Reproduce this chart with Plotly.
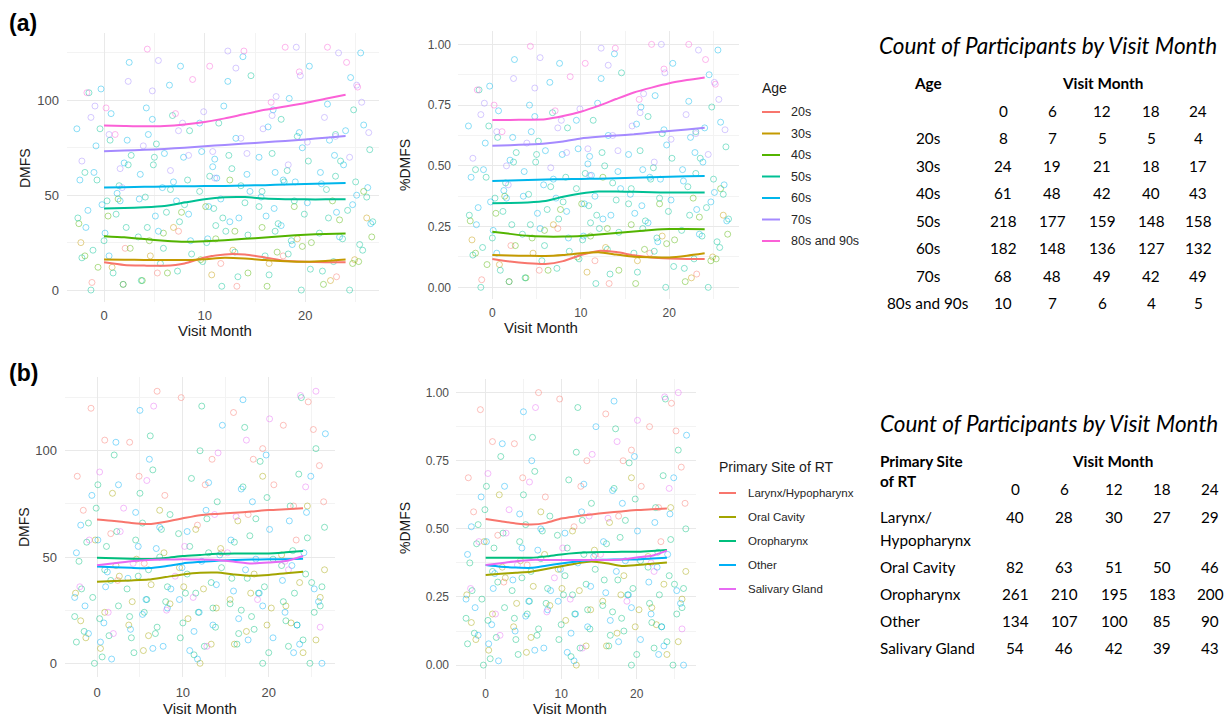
import plotly.graph_objects as go

W, H = 1228, 717

# ---------------- data ----------------
age_groups = ["20s", "30s", "40s", "50s", "60s", "70s", "80s and 90s"]
age_colors = ["#F8766D", "#C49A00", "#53B400", "#00C094", "#00B6EB", "#A58AFF", "#FB61D7"]
site_groups = ["Larynx/Hypopharynx", "Oral Cavity", "Oropharynx", "Other", "Salivary Gland"]
site_colors = ["#F8766D", "#A3A500", "#00BF7D", "#00B0F6", "#E76BF3"]

visit_months = [0, 6, 12, 18, 24]
age_counts = [
    [8, 7, 5, 5, 4],
    [24, 19, 21, 18, 17],
    [61, 48, 42, 40, 43],
    [218, 177, 159, 148, 158],
    [182, 148, 136, 127, 132],
    [68, 48, 49, 42, 49],
    [10, 7, 6, 4, 5],
]
site_counts = [
    [40, 28, 30, 27, 29],
    [82, 63, 51, 50, 46],
    [261, 210, 195, 183, 200],
    [134, 107, 100, 85, 90],
    [54, 46, 42, 39, 43],
]

# smoothed curves (loess), read at these months
smooth_x = [0, 2, 4, 6, 8, 10, 12, 14, 16, 18, 20, 22, 24]
age_dmfs_smooth = [
    [14.6, 13.2, 12.9, 12.8, 14.0, 17.2, 18.8, 18.7, 17.2, 15.4, 14.9, 14.7, 14.6],
    [16.1, 16.0, 15.9, 15.8, 15.8, 16.3, 17.0, 16.6, 15.8, 15.2, 14.9, 15.3, 16.1],
    [28.4, 27.8, 26.9, 26.0, 25.4, 25.7, 26.3, 27.0, 27.7, 28.5, 29.2, 29.6, 29.8],
    [43.0, 43.2, 43.6, 44.3, 46.1, 47.9, 48.9, 49.0, 48.2, 47.9, 47.8, 47.8, 47.9],
    [54.0, 54.2, 54.4, 54.6, 54.7, 54.8, 54.9, 55.1, 55.3, 55.6, 55.9, 56.2, 56.4],
    [73.2, 73.5, 73.9, 74.4, 75.0, 75.8, 76.5, 77.2, 77.9, 78.6, 79.4, 80.3, 81.2],
    [86.8, 86.5, 86.3, 86.5, 87.3, 88.6, 90.5, 92.8, 95.0, 96.8, 98.6, 100.8, 103.0],
]
age_pct_smooth = [
    [0.117, 0.106, 0.099, 0.096, 0.108, 0.133, 0.150, 0.145, 0.132, 0.123, 0.119, 0.117, 0.117],
    [0.133, 0.131, 0.130, 0.129, 0.133, 0.140, 0.144, 0.135, 0.126, 0.124, 0.123, 0.130, 0.140],
    [0.229, 0.220, 0.212, 0.209, 0.209, 0.211, 0.217, 0.224, 0.230, 0.236, 0.240, 0.240, 0.239],
    [0.346, 0.347, 0.349, 0.355, 0.373, 0.386, 0.394, 0.394, 0.393, 0.391, 0.390, 0.390, 0.390],
    [0.438, 0.440, 0.442, 0.444, 0.445, 0.446, 0.447, 0.449, 0.451, 0.453, 0.455, 0.457, 0.458],
    [0.583, 0.585, 0.588, 0.592, 0.600, 0.613, 0.620, 0.625, 0.630, 0.637, 0.643, 0.650, 0.657],
    [0.689, 0.689, 0.690, 0.692, 0.705, 0.723, 0.747, 0.775, 0.802, 0.822, 0.840, 0.853, 0.864],
]
site_dmfs_smooth = [
    [67.7, 67.0, 66.0, 65.5, 66.6, 68.2, 69.7, 70.3, 70.8, 71.4, 72.1, 72.5, 72.9],
    [38.4, 38.7, 39.0, 39.4, 40.6, 41.8, 42.6, 42.7, 41.8, 41.2, 41.6, 42.4, 43.1],
    [49.7, 49.4, 49.2, 49.1, 49.6, 50.5, 51.0, 51.5, 51.7, 51.7, 51.7, 52.2, 52.8],
    [45.5, 45.2, 44.9, 44.8, 45.7, 47.0, 47.7, 48.3, 48.6, 48.8, 48.9, 49.0, 49.2],
    [46.1, 47.1, 48.0, 48.6, 48.8, 48.9, 48.8, 48.6, 47.8, 47.0, 47.4, 48.1, 50.5],
]
site_pct_smooth = [
    [0.536, 0.528, 0.520, 0.516, 0.522, 0.538, 0.546, 0.553, 0.559, 0.564, 0.569, 0.572, 0.575],
    [0.331, 0.335, 0.339, 0.343, 0.353, 0.363, 0.373, 0.380, 0.374, 0.364, 0.367, 0.372, 0.377],
    [0.394, 0.394, 0.394, 0.394, 0.399, 0.406, 0.411, 0.414, 0.415, 0.416, 0.416, 0.419, 0.422],
    [0.367, 0.361, 0.358, 0.357, 0.365, 0.373, 0.380, 0.386, 0.387, 0.388, 0.388, 0.391, 0.394],
    [0.367, 0.374, 0.381, 0.386, 0.386, 0.386, 0.386, 0.386, 0.386, 0.388, 0.395, 0.401, 0.420],
]

# jittered participant observations (estimated sample of the cloud)
A20_X = [-1.2, 2.1, 5.3, 7.4, 11.6, 13.2, 17.8, 23.1]
A20_Y = [4, 22, 9, 31, 14, 2, 18, 7]
A30_X = [0.8, -2.3, 1.9, 4.6, 6.9, 10.7, 12.8, 16.4, 19.2, 22.5, 24.9, 26.1]
A30_Y = [12, 25, 3, 18, 33, 8, 21, 14, 27, 5, 16, 38]
A40_X = [-2.5, -0.6, 1.4, 2.6, 3.8, 5.9, 7.7, 9.6, 11.1, 12.5, 14.3, 15.7, 17.2, 18.9, 20.6, 21.8, 23.4, 24.7, 25.8, 26.6,
         -1.9, 0.4, 4.5, 6.3, 10.1, 13.0, 16.2, 19.7, 22.7, 25.3]
A40_Y = [35, 12, 48, 22, 5, 30, 41, 16, 27, 58, 9, 33, 20, 44, 25, 3, 37, 14, 52, 28,
         18, 39, 26, 9, 44, 31, 2, 23, 47, 15]
A50_X = [-2.6, -1.9, -1.1, -0.4, 0.3, 0.9, 1.5, 2.2, 2.7, -1.5,
         3.4, 4.1, 4.9, 5.6, 6.2, 6.8, 7.5, 8.3, 8.7, 5.2,
         9.5, 10.2, 10.9, 11.4, 12.1, 12.7, 13.3, 14.0, 14.6, 11.8,
         15.4, 16.0, 16.7, 17.3, 17.9, 18.6, 19.2, 19.9, 20.5, 18.2,
         21.4, 22.1, 22.8, 23.5, 24.2, 24.8, 25.4, 26.1, 26.7, 23.0,
         -2.2, -1.3, -0.7, 0.0, 0.6, 1.2, 1.9, 2.4,
         3.7, 4.3, 5.0, 5.9, 6.6, 7.3, 8.0, 8.5,
         9.8, 10.5, 11.1, 11.7, 12.4, 13.0, 13.6, 14.3,
         15.7, 16.4, 17.0, 17.6, 18.3, 18.9, 19.6, 20.3,
         21.7, 22.3, 23.0, 23.7, 24.4, 25.0, 25.7, 26.4]
A50_Y = [38, 62, 21, 85, 47, 9, 55, 33, 71, 104,
         28, 49, 66, 14, 41, 92, 36, 58, 19, 77,
         52, 25, 43, 88, 31, 64, 7, 46, 113, 38,
         44, 18, 72, 35, 57, 26, 81, 40, 11, 63,
         30, 53, 15, 68, 42, 95, 24, 49, 36, 60,
         17, 0, 58, 26, 79, 40, 3, 66,
         5, 33, 70, 22, 53, 10, 45, 84,
         15, 60, 34, 2, 71, 20, 55, 29,
         52, 8, 31, 90, 19, 47, 0, 68,
         10, 38, 82, 27, 0, 57, 21, 74]
A60_X = [-2.4, -1.6, -0.8, 0.1, 0.7, 1.3, 2.0, 2.5, -0.2,
         3.6, 4.4, 5.1, 5.8, 6.5, 7.2, 7.9, 8.6, 4.8,
         9.7, 10.4, 11.2, 11.9, 12.5, 13.1, 13.8, 14.5, 10.8,
         15.6, 16.3, 17.0, 17.6, 18.4, 19.0, 19.7, 20.4, 16.9,
         21.6, 22.4, 23.1, 23.8, 24.5, 25.1, 25.8, 26.5, 22.9,
         -2.7, -1.8, -1.0, -0.3, 0.5, 1.6, 2.3,
         3.5, 4.2, 5.4, 6.0, 6.9, 7.6, 8.4,
         9.5, 10.3, 11.0, 11.6, 12.3, 13.4, 14.2,
         15.4, 16.1, 16.8, 17.8, 18.7, 19.4, 20.2,
         21.5, 22.2, 23.4, 24.0, 24.7, 25.5, 26.2]
A60_Y = [58, 42, 76, 30, 93, 51, 67, 120, 45,
         61, 82, 39, 54, 108, 47, 70, 26, 90,
         73, 44, 59, 97, 36, 80, 123, 52, 65,
         49, 86, 62, 34, 101, 57, 75, 118, 43,
         56, 79, 41, 66, 112, 50, 87, 35, 71,
         85, 33, 62, 106, 18, 47, 79,
         48, 96, 31, 72, 57, 118, 40,
         88, 27, 69, 48, 110, 38, 61,
         70, 39, 95, 58, 24, 83, 46,
         62, 98, 28, 84, 45, 125, 54]
A70_X = [-2.2, -0.9, 0.5, 1.8, 2.4, 3.9, 5.4, 6.6, 7.8, 8.4, 9.9, 11.0, 12.3, 13.6, 14.2,
         15.8, 17.1, 18.3, 19.5, 20.2, 21.9, 23.3, 24.4, 25.6, 26.3,
         -1.3, 1.6, 4.8, 7.4, 10.8, 13.1, 16.7, 19.1, 23.0, 25.1]
A70_Y = [68, 97, 82, 54, 110, 76, 121, 63, 88, 71, 94, 59, 126, 80, 72,
         85, 102, 66, 113, 78, 91, 125, 70, 99, 83,
         91, 64, 105, 84, 73, 117, 92, 128, 81, 108]
A80_X = [-1.7, 1.1, 4.3, 7.1, 10.5, 13.9, 16.6, 19.4, 22.2, 25.2, 0.2, 8.8, 18.0, 24.1]
A80_Y = [104, 82, 127, 93, 118, 126, 99, 115, 128, 107, 96, 111, 128, 120]

BL_X = [-2.3, -0.7, 1.6, 3.8, 5.5, 7.9, 9.8, 11.7, 13.4, 14.5, 15.9, 17.6, 19.3, 20.6, 21.7, 23.2, 24.6, 25.9, 26.4, 2.4,
        -1.6, 0.9, 4.9, 7.0, 12.6, 18.2, 22.9, 25.2]
BL_Y = [88, 120, 61, 104, 47, 79, 125, 65, 96, 52, 118, 70, 101, 84, 112, 58, 123, 93, 76, 39,
        72, 105, 88, 128, 84, 96, 74, 110]
BO_X = [-2.5, -1.3, -0.2, 0.9, 1.8, 2.6, 3.7, 4.6, 5.4, 6.3, 7.3, 8.5,
        9.6, 10.6, 11.5, 12.4, 13.3, 14.4, 15.5, 16.4, 17.4, 18.3, 19.3, 20.3,
        21.5, 22.6, 23.6, 24.5, 25.5, 26.5,
        -1.9, 0.4, 2.2, 4.1, 6.0, 7.8, 10.1, 12.0, 13.9, 16.0, 17.9, 19.8, 22.0, 24.0, 26.0]
BO_Y = [33, 12, 58, 24, 80, 41, 18, 49, 6, 37, 72, 28,
        45, 21, 63, 35, 9, 54, 30, 67, 15, 42, 88, 26,
        51, 19, 38, 74, 11, 44,
        20, 7, 46, 29, 13, 52, 36, 0, 26, 9, 33, 18, 27, 5, 31]
BR_X = [-2.6, -2.1, -1.5, -1.0, -0.5, 0.1, 0.6, 1.1, 1.6, 2.0, 2.5, -0.1,
        3.5, 4.0, 4.5, 5.0, 5.5, 6.0, 6.5, 7.0, 7.5, 8.0, 8.5, 6.2,
        9.5, 10.0, 10.5, 11.0, 11.5, 12.0, 12.5, 13.0, 13.5, 14.0, 14.5, 12.2,
        15.5, 16.0, 16.5, 17.0, 17.5, 18.0, 18.5, 19.0, 19.5, 20.0, 20.5, 17.2,
        21.5, 22.0, 22.5, 23.0, 23.5, 24.0, 24.5, 25.0, 25.5, 26.0, 26.5, 23.8,
        -2.4, -1.8, -1.2, -0.3, 0.3, 0.9, 1.4, 2.3,
        3.8, 4.3, 4.8, 5.3, 5.8, 6.8, 7.3, 8.2,
        9.7, 10.3, 10.8, 11.3, 11.8, 12.8, 13.3, 13.8,
        15.7, 16.3, 16.8, 17.8, 18.3, 18.8, 19.3, 19.8,
        21.7, 22.3, 22.8, 23.3, 24.3, 24.8, 25.3, 26.2]
BR_Y = [22, 48, 15, 66, 31, 84, 3, 55, 39, 98, 27, 73,
        35, 12, 58, 80, 24, 44, 91, 17, 63, 29, 70, 107,
        61, 19, 42, 87, 33, 100, 8, 52, 26, 76, 45, 121,
        28, 57, 14, 83, 40, 22, 68, 95, 36, 5, 49, 111,
        46, 20, 74, 33, 89, 11, 59, 38, 101, 27, 64, 125,
        10, 35, 57, 0, 21, 44, 13, 62,
        22, 5, 41, 66, 30, 14, 50, 36,
        12, 33, 55, 4, 24, 68, 38, 17,
        40, 9, 25, 60, 16, 33, 0, 78,
        29, 8, 53, 18, 42, 0, 24, 36]
BT_X = [-2.4, -1.4, -0.6, 0.4, 1.2, 2.2, -1.9, 0.8,
        3.6, 4.5, 5.3, 6.1, 6.9, 7.7, 8.6, 5.0,
        9.6, 10.5, 11.3, 12.2, 13.0, 13.9, 14.6, 11.7,
        15.6, 16.5, 17.3, 18.1, 18.9, 19.7, 20.5, 17.0,
        21.6, 22.4, 23.3, 24.1, 24.9, 25.8, 26.6, 22.9,
        -2.6, -1.0, 0.1, 1.0, 1.7, 2.5,
        3.9, 4.8, 5.7, 6.5, 7.3, 8.2,
        9.9, 10.8, 11.9, 12.7, 13.5, 14.3,
        15.9, 16.8, 17.6, 18.5, 19.3, 20.1,
        21.9, 22.7, 23.6, 24.4, 25.3, 26.2]
BT_Y = [52, 27, 79, 10, 43, 104, 65, 19,
        40, 71, 23, 96, 54, 8, 35, 119,
        30, 62, 15, 48, 85, 37, 112, 2,
        58, 21, 44, 76, 33, 98, 12, 124,
        39, 67, 18, 52, 88, 29, 108, 5,
        31, 14, 58, 36, 2, 84,
        16, 55, 30, 7, 64, 26,
        45, 6, 24, 72, 18, 51,
        34, 82, 11, 49, 27, 63,
        24, 46, 9, 71, 35, 0]
BS_X = [-2.0, 0.3, 1.9, 2.7, 4.2, 6.6, 8.1, 3.1, 10.2, 12.8, 14.1, 9.1, 16.2, 18.7, 20.1, 15.2, 22.3, 24.3, 26.0, 23.7,
        -0.9, 1.3, 5.8, 11.2, 13.7, 17.4, 21.9, 25.5]
BS_Y = [36, 90, 14, 62, 47, 121, 25, 73, 55, 8, 99, 41, 69, 30, 115, 52, 44, 83, 17, 126,
        58, 24, 86, 31, 70, 105, 48, 128]

MAX_SURFACES = 128

age_pts = [(A20_X, A20_Y), (A30_X, A30_Y), (A40_X, A40_Y), (A50_X, A50_Y),
           (A60_X, A60_Y), (A70_X, A70_Y), (A80_X, A80_Y)]
site_pts = [(BL_X, BL_Y), (BO_X, BO_Y), (BR_X, BR_Y), (BT_X, BT_Y), (BS_X, BS_Y)]

# ---------------- figure ----------------
fig = go.Figure()


def px(x):
    return x / W


def py(y):
    return 1 - y / H


def add_panel(n, pts, smooth, colors, pct):
    xa = "x" if n == 1 else f"x{n}"
    ya = "y" if n == 1 else f"y{n}"
    for (xs, ys), c in zip(pts, colors):
        yv = [min(v / MAX_SURFACES, 1.0) for v in ys] if pct else ys
        fig.add_trace(go.Scatter(
            x=xs, y=yv, mode="markers", xaxis=xa, yaxis=ya, showlegend=False,
            marker=dict(symbol="circle-open", size=6, color=c, opacity=0.45,
                        line=dict(width=1)),
            hoverinfo="skip"))
    for s, c in zip(smooth, colors):
        fig.add_trace(go.Scatter(
            x=smooth_x, y=s, mode="lines", xaxis=xa, yaxis=ya, showlegend=False,
            line=dict(color=c, width=2, shape="spline", smoothing=0.6)))


add_panel(1, age_pts, age_dmfs_smooth, age_colors, False)
add_panel(2, age_pts, age_pct_smooth, age_colors, True)
add_panel(3, site_pts, site_dmfs_smooth, site_colors, False)
add_panel(4, site_pts, site_pct_smooth, site_colors, True)

GRID = "#e9e9e9"
MINOR = "#f3f3f3"
TICKC = "#4d4d4d"


def xax(dom, rng, fs, standoff):
    return dict(domain=[px(dom[0]), px(dom[1])], range=rng, tickmode="array",
                tickvals=[0, 10, 20], ticktext=["0", "10", "20"], showgrid=True,
                gridcolor=GRID, gridwidth=1, zeroline=False, showline=False,
                ticks="", ticklabelstandoff=standoff,
                tickfont=dict(family="Liberation Sans, Arial", size=fs, color=TICKC),
                minor=dict(tickvals=[5, 15, 25], showgrid=True, gridcolor=MINOR, gridwidth=1))


def yax_dmfs(dom, rng, fs):
    return dict(domain=[py(dom[1]), py(dom[0])], range=rng, tickmode="array",
                tickvals=[0, 50, 100], ticktext=["0", "50", "100"], showgrid=True,
                gridcolor=GRID, gridwidth=1, zeroline=False, showline=False,
                ticks="", ticklabelstandoff=7,
                tickfont=dict(family="Liberation Sans, Arial", size=fs, color=TICKC),
                minor=dict(tickvals=[25, 75, 125], showgrid=True, gridcolor=MINOR, gridwidth=1))


def yax_pct(dom, rng, fs):
    return dict(domain=[py(dom[1]), py(dom[0])], range=rng, tickmode="array",
                tickvals=[0, 0.25, 0.5, 0.75, 1.0],
                ticktext=["0.00", "0.25", "0.50", "0.75", "1.00"], showgrid=True,
                gridcolor=GRID, gridwidth=1, zeroline=False, showline=False,
                ticks="", ticklabelstandoff=6,
                tickfont=dict(family="Liberation Sans, Arial", size=fs, color=TICKC),
                minor=dict(tickvals=[0.125, 0.375, 0.625, 0.875], showgrid=True,
                           gridcolor=MINOR, gridwidth=1))


fig.update_layout(
    width=W, height=H, margin=dict(l=0, r=0, t=0, b=0),
    paper_bgcolor="white", plot_bgcolor="white", showlegend=False,
    xaxis=dict(anchor="y", **xax((67, 379), [-3.68, 27.32], 13, 4)),
    yaxis=dict(anchor="x", **yax_dmfs((33, 302), [-6.3, 135.5], 13)),
    xaxis2=dict(anchor="y2", **xax((458, 739), [-3.88, 27.88], 12, 5)),
    yaxis2=dict(anchor="x2", **yax_pct((31, 299), [-0.048, 1.055], 12)),
    xaxis3=dict(anchor="y3", **xax((65, 335), [-3.73, 27.72], 13, 6)),
    yaxis3=dict(anchor="x3", **yax_dmfs((377, 677), [-6.44, 134.7], 13)),
    xaxis4=dict(anchor="y4", **xax((456, 696), [-3.93, 27.85], 12, 6)),
    yaxis4=dict(anchor="x4", **yax_pct((379, 679), [-0.051, 1.05], 12)),
)

ann = []
shapes = []


def text(x, y, s, size, anchor="center", bold=False, italic=False, family="Liberation Sans, Arial",
         color="#1a1a1a", angle=0):
    t = s
    if bold:
        t = f"<b>{t}</b>"
    if italic:
        t = f"<i>{t}</i>"
    ann.append(dict(x=px(x), y=py(y), xref="paper", yref="paper", text=t, showarrow=False,
                    xanchor=anchor, yanchor="middle", textangle=angle,
                    font=dict(family=family, size=size, color=color)))


# panel labels
text(7, 23, "(a)", 23, anchor="left", bold=True, color="#000000")
text(7, 373, "(b)", 23, anchor="left", bold=True, color="#000000")

# axis titles
text(215, 330, "Visit Month", 15)
text(541, 327, "Visit Month", 15)
text(200, 708, "Visit Month", 15)
text(570, 708, "Visit Month", 15)
text(25, 168, "DMFS", 14, angle=-90)
text(405, 165, "%DMFS", 14, angle=-90)
text(24, 527, "DMFS", 14, angle=-90)
text(405, 528, "%DMFS", 14, angle=-90)

# legends
text(760, 88, "Age", 14, anchor="left")
for i, (g, c) in enumerate(zip(age_groups, age_colors)):
    yy = 112 + i * 21.5
    shapes.append(dict(type="line", xref="paper", yref="paper", x0=px(762), x1=px(780),
                       y0=py(yy), y1=py(yy), line=dict(color=c, width=2)))
    text(789, yy, g, 12.5, anchor="left", color="#262626")

text(717, 467, "Primary Site of RT", 14, anchor="left")
for i, (g, c) in enumerate(zip(site_groups, site_colors)):
    yy = 493 + i * 24
    shapes.append(dict(type="line", xref="paper", yref="paper", x0=px(719), x1=px(736),
                       y0=py(yy), y1=py(yy), line=dict(color=c, width=2)))
    text(746, yy, g, 11.5, anchor="left", color="#262626")

# tables
TF = "Lato, Carlito, Calibri, sans-serif"
TS = 15.3
text(1048, 45, "Count of Participants by Visit Month", 22.5, italic=True, family=TF, color="#000")
text(928, 83, "Age", TS, bold=True, family=TF, color="#000")
text(1102, 83, "Visit Month", TS, bold=True, family=TF, color="#000")
cols_a = [1003, 1052, 1102, 1151, 1198]
for m, cx in zip(visit_months, cols_a):
    text(cx, 111, str(m), TS, family=TF, color="#000")
for i, (g, row) in enumerate(zip(age_groups, age_counts)):
    yy = 138 + i * 27.5
    text(928, yy, g, TS, family=TF, color="#000")
    for v, cx in zip(row, cols_a):
        text(cx, yy, str(v), TS, family=TF, color="#000")

text(1049, 423, "Count of Participants by Visit Month", 22.5, italic=True, family=TF, color="#000")
text(878, 461, "Primary Site", TS, anchor="left", bold=True, family=TF, color="#000")
text(878, 481, "of RT", TS, anchor="left", bold=True, family=TF, color="#000")
text(1112, 461, "Visit Month", TS, bold=True, family=TF, color="#000")
cols_b = [1015, 1064, 1114, 1162, 1210]
for m, cx in zip(visit_months, cols_b):
    text(cx, 489, str(m), TS, family=TF, color="#000")
rows_b = [517, 567, 594, 621, 648]
for g, row, yy in zip(site_groups, site_counts, rows_b):
    if "/" in g:
        a, b = g.split("/")
        text(878, yy, a + "/", TS, anchor="left", family=TF, color="#000")
        text(878, yy + 23, b, TS, anchor="left", family=TF, color="#000")
    else:
        text(878, yy, g, TS, anchor="left", family=TF, color="#000")
    for v, cx in zip(row, cols_b):
        text(cx, yy, str(v), TS, family=TF, color="#000")

fig.update_layout(annotations=ann, shapes=shapes)
fig.write_html(
    "out.html",
    config={"displayModeBar": False},
    post_script="document.body.style.margin='0';document.body.style.padding='0';"
                "document.documentElement.style.overflow='hidden';",
)
